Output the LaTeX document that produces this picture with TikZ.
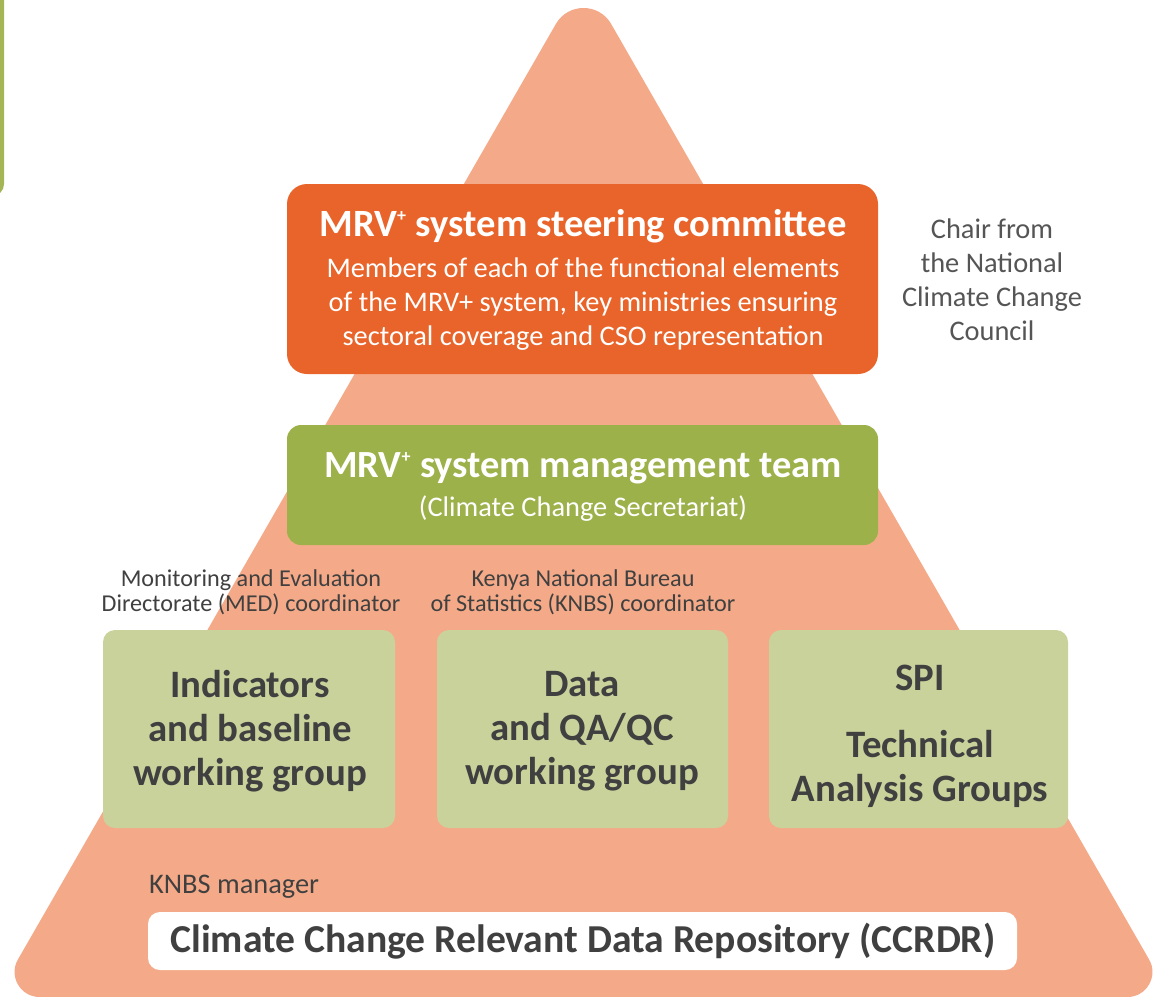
\documentclass[tikz,border=0pt]{standalone}
\usepackage{fontspec}
\setmainfont{Carlito}
\usepackage{tikz}
\usetikzlibrary{positioning}
\definecolor{pyramidsalmon}{RGB}{244,170,136}
\definecolor{steerorange}{RGB}{233,100,42}
\definecolor{mgmtgreen}{RGB}{157,177,75}
\definecolor{groupgreen}{RGB}{202,210,156}
\definecolor{framegreen}{RGB}{163,181,85}
\definecolor{darkgray}{RGB}{64,64,64}
\definecolor{notegray}{RGB}{85,85,85}
\newcommand{\mrvplus}{MRV\textsuperscript{\fontsize{9}{9}\selectfont+}}

\begin{document}
\begin{tikzpicture}[x=0.5pt, y=-0.5pt]
        \useasboundingbox (0,0) rectangle (1155,996);
        % Frame edge at top left
        \draw[framegreen, line width=2pt, rounded corners=5pt] (-100,-50) rectangle (2,194);

        % Pyramid
        \fill[pyramidsalmon] (611.1,23.9) -- (1149.1,959.5) .. controls (1158.7,976.1) and (1146.6,997) .. (1127.4,997)
            -- (39.6,997) .. controls (20.4,997) and (8.3,976.1) .. (17.9,959.5)
            -- (555.9,23.9) .. controls (568.1,2.7) and (598.9,2.7) .. cycle;

        % Steering committee
        \fill[steerorange, rounded corners=10pt] (287,184) rectangle (878,374);
        \node[font=\fontsize{19.3}{22}\selectfont\bfseries, text=white] (steertitle) at (583,226) {\mrvplus{} system steering committee};
        \node[font=\fontsize{14.2}{17}\selectfont, text=white, align=center] (steertext) at (583,304) {Members of each of the functional elements\\of the MRV+ system, key ministries ensuring\\sectoral coverage and CSO representation};
        \node[font=\fontsize{14.2}{17}\selectfont, text=notegray, align=center] (chairnote) at (992,280) {Chair from\\the National\\Climate Change\\Council};

        % Management team
        \fill[mgmtgreen, rounded corners=7pt] (287,425) rectangle (878,545);
        \node[font=\fontsize{19.2}{22}\selectfont\bfseries, text=white] (mgmttitle) at (583,468) {\mrvplus{} system management team};
        \node[font=\fontsize{14.2}{17}\selectfont, text=white] (mgmttext) at (583,509) {(Climate Change Secretariat)};

        % Coordinators
        \node[font=\fontsize{12.1}{12.5}\selectfont, text=darkgray, align=center] (mednote) at (251,592) {Monitoring and Evaluation\\Directorate (MED) coordinator};
        \node[font=\fontsize{12.1}{12.5}\selectfont, text=darkgray, align=center] (knbsnote) at (583,592) {Kenya National Bureau\\of Statistics (KNBS) coordinator};

        % Working groups
        \fill[groupgreen, rounded corners=6pt] (103,630) rectangle (395,828);
        \fill[groupgreen, rounded corners=6pt] (437,630) rectangle (728,828);
        \fill[groupgreen, rounded corners=6pt] (769,630) rectangle (1068,828);
        \node[font=\fontsize{19.4}{22}\selectfont\bfseries, text=darkgray, align=center] (indgroup) at (250,731) {Indicators\\and baseline\\working group};
        \node[font=\fontsize{19.4}{22}\selectfont\bfseries, text=darkgray, align=center] (datagroup) at (582,731) {Data\\and QA/QC\\working group};
        \node[font=\fontsize{19.4}{22}\selectfont\bfseries, text=darkgray] (spigroup) at (920,678) {SPI};
        \node[font=\fontsize{19.4}{22}\selectfont\bfseries, text=darkgray, align=center] (tagroup) at (920,769) {Technical\\Analysis Groups};

        % Data repository
        \node[font=\fontsize{14.2}{17}\selectfont, text=darkgray, anchor=west] (knbsmanager) at (142,887) {KNBS manager};
        \fill[white, rounded corners=6pt] (148,912) rectangle (1017,970);
        \node[font=\fontsize{19.8}{22}\selectfont\bfseries, text=darkgray] (ccrdr) at (583,941) {Climate Change Relevant Data Repository (CCRDR)};
    \end{tikzpicture}
\end{document}
